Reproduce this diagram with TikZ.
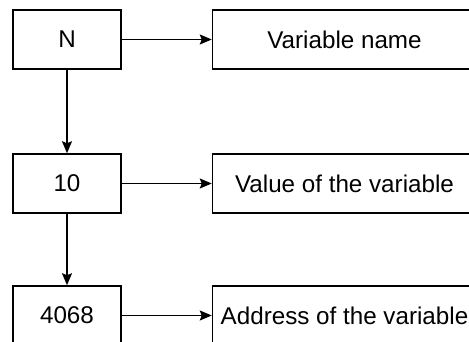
\documentclass[tikz,border=0pt]{standalone}
\usepackage{fontspec}
\setmainfont{Liberation Sans}
\usetikzlibrary{positioning,arrows.meta}
\begin{document}
\begin{tikzpicture}[x=1pt, y=1pt, node distance=90pt,
  every node/.style = {shape=rectangle, draw, line width=1.5pt,
    minimum height=59pt, inner sep=0pt,
    font=\fontsize{24.2}{29}\selectfont},
  cell/.style = {minimum width=108pt},
  desc/.style = {minimum width=264pt},
  link/.style = {line width=1.5pt,
    -{Stealth[length=12pt, width=10pt, inset=2pt]}}]
  \useasboundingbox (0,0) rectangle (469,342);
  \node[cell] (name)  at (67,302.5) {N};
  \node[cell] (value) at (67,158.5) {10};
  \node[cell] (addr)  at (67,26.5)  {4068};
  \node[desc, right=of name]  (namedesc)  {Variable name};
  \node[desc, right=of value] (valuedesc) {Value of the variable};
  \node[desc, right=of addr]  (addrdesc)  {Address of the variable};
  \draw[link] (name)  -- (namedesc);
  \draw[link] (value) -- (valuedesc);
  \draw[link] (addr)  -- (addrdesc);
  \draw[link] (name)  -- (value);
  \draw[link] (value) -- (addr);
\end{tikzpicture}
\end{document}
